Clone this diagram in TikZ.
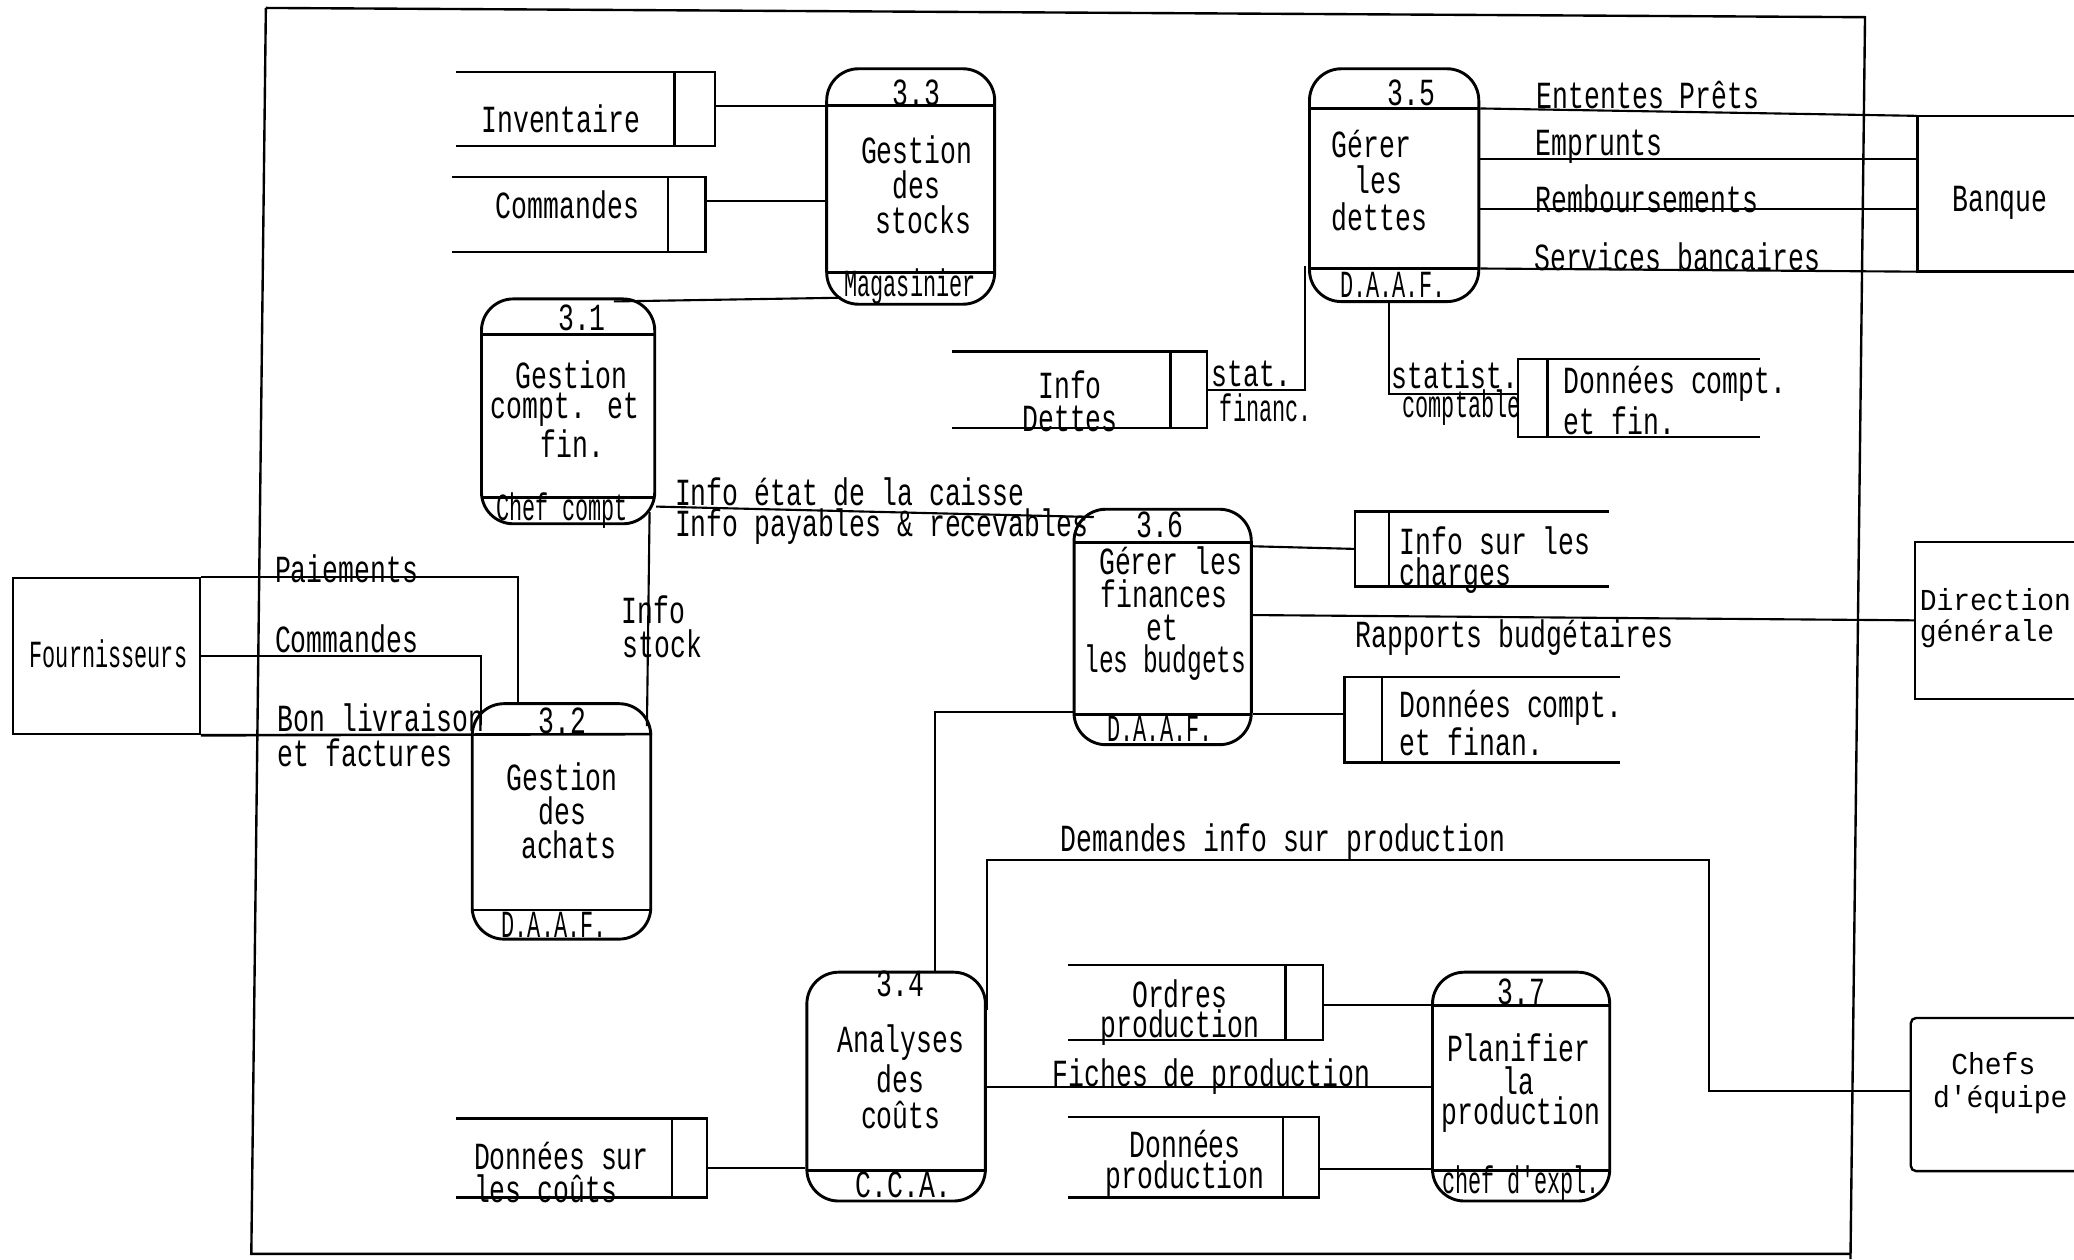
\documentclass[tikz,border=0pt]{standalone}
\usepackage{fontspec}
\setmainfont{Liberation Mono}[FakeStretch=0.69]
\newfontfamily\narrowfont{Liberation Mono}[FakeStretch=0.57]
\newfontfamily\midfont{Liberation Mono}[FakeStretch=0.64]
\newfontfamily\widefont{Liberation Mono}[FakeStretch=0.92]
\usetikzlibrary{fit,calc}
\newcommand\procbox[5]{\node[proc, fit={(#2,#3) (#4,#5)}] (#1) {};}
\newcommand\pdivider[5]{\begin{scope}\clip[rounded corners=12pt] (#1,#2) rectangle (#3,#4);\draw[line width=1.1pt] (#1,#5) -- (#3,#5);\end{scope}}
\newcommand\storeR[6]{\node[hold, fit={(#2,#3) (#4,#5)}] (#1) {};
  \draw[storeline] (#1.north west) -- (#1.north east) -- (#1.south east) -- (#1.south west);
  \draw[storeline] (#6,#3) -- (#6,#5);}
\newcommand\storeL[6]{\node[hold, fit={(#2,#3) (#4,#5)}] (#1) {};
  \draw[storeline] (#1.north east) -- (#1.north west) -- (#1.south west) -- (#1.south east);
  \draw[storeline] (#6,#3) -- (#6,#5);}
\begin{document}
\begin{tikzpicture}[x=0.5pt,y=-0.5pt,
  proc/.style={draw, line width=1.1pt, rounded corners=12pt, inner sep=0pt},
  hold/.style={inner sep=0pt},
  storeline/.style={line width=0.9pt},
  flow/.style={line width=0.8pt},
  lbl/.style={inner sep=0pt, font=\fontsize{14.5pt}{13.25pt}\selectfont},
  nlbl/.style={inner sep=0pt, font=\narrowfont\fontsize{14.5pt}{13.25pt}\selectfont},
  mlbl/.style={inner sep=0pt, font=\midfont\fontsize{14.5pt}{13.25pt}\selectfont},
  wlbl/.style={inner sep=0pt, font=\widefont\fontsize{11.5pt}{13.25pt}\selectfont},
  ]
\useasboundingbox (0,0) rectangle (1568,952);
\fill[white] (0,0) rectangle (1568,952);

% system boundary
\draw[line width=0.9pt] (201,6) -- (1410,13) -- (1399,952);
\draw[line width=0.9pt] (201,6) -- (190,948) -- (1399,948);

% processes
\procbox{p33}{625}{52}{752}{230}
\pdivider{625}{52}{752}{230}{80}
\pdivider{625}{52}{752}{230}{206}
\procbox{p35}{990}{52}{1118}{228}
\pdivider{990}{52}{1118}{228}{82}
\pdivider{990}{52}{1118}{228}{203}
\procbox{p31}{364}{226}{495}{396}
\pdivider{364}{226}{495}{396}{253}
\pdivider{364}{226}{495}{396}{376}
\procbox{p32}{357}{532}{492}{710}
\pdivider{357}{532}{492}{710}{688}
\procbox{p36}{812}{385}{946}{563}
\pdivider{812}{385}{946}{563}{410}
\pdivider{812}{385}{946}{563}{540}
\procbox{p34}{610}{735}{745}{908}
\pdivider{610}{735}{745}{908}{885}
\procbox{p37}{1083}{735}{1217}{908}
\pdivider{1083}{735}{1217}{908}{760}
\pdivider{1083}{735}{1217}{908}{885}

% process texts
\node[lbl] (n33) at (693,70) {3.3};
\node[lbl] (t33a) at (693,113) {Gestion};
\node[lbl] (t33b) at (693,140) {des};
\node[lbl] (t33c) at (698,166) {stocks};
\node[nlbl] (r33) at (688,217) {Magasinier};
\node[lbl] (n35) at (1067,70) {3.5};
\node[lbl] (t35a) at (1037,109) {Gérer};
\node[lbl] (t35b) at (1042,136) {les};
\node[lbl] (t35c) at (1043,164) {dettes};
\node[nlbl] (r35) at (1053,215) {D.A.A.F.};
\node[lbl] (n31) at (440,240) {3.1};
\node[lbl] (t31a) at (432,283) {Gestion};
\node[lbl] (t31b) at (427,310) {compt. et};
\node[lbl] (t31c) at (433,335) {fin.};
\node[nlbl] (r31) at (425,386) {Chef compt};
\node[lbl] (n32) at (425,545) {3.2};
\node[lbl] (t32a) at (425,587) {Gestion};
\node[lbl] (t32b) at (425,613) {des};
\node[lbl] (t32c) at (430,639) {achats};
\node[nlbl] (r32) at (419,699) {D.A.A.F.};
\node[lbl] (n36) at (877,397) {3.6};
\node[lbl] (t36a) at (885,424) {Gérer les};
\node[lbl] (t36b) at (880,449) {finances};
\node[lbl] (t36c) at (879,475) {et};
\node[mlbl] (t36d) at (881,501) {les budgets};
\node[nlbl] (r36) at (877,551) {D.A.A.F.};
\node[lbl] (n34) at (681,744) {3.4};
\node[lbl] (t34a) at (681,788) {Analyses};
\node[lbl] (t34b) at (681,816) {des};
\node[lbl] (t34c) at (681,843) {coûts};
\node[lbl] (r34) at (683,896) {C.C.A.};
\node[lbl] (n37) at (1150,750) {3.7};
\node[lbl] (t37a) at (1148,792) {Planifier};
\node[lbl] (t37b) at (1148,817) {la};
\node[lbl] (t37c) at (1150,843) {production};
\node[nlbl] (r37) at (1150,895) {chef d'expl.};

% data stores
\storeR{sInv}{345}{55}{540}{110}{510}
\node[lbl] (tInv) at (424,90) {Inventaire};
\storeR{sCom}{342}{134}{533}{190}{505}
\node[lbl] (tCom) at (429,155) {Commandes};
\storeR{sDet}{720}{266}{912}{323}{885}
\node[lbl] (tDet1) at (809,291) {Info};
\node[lbl] (tDet2) at (809,317) {Dettes};
\storeL{sDcf}{1148}{272}{1330}{330}{1170}
\node[lbl, anchor=west] (tDcf1) at (1182,290) {Données compt.};
\node[lbl, anchor=west] (tDcf2) at (1182,318) {et fin.};
\storeL{sChg}{1025}{387}{1216}{443}{1050}
\node[lbl, anchor=west] (tChg1) at (1058,409) {Info sur les};
\node[lbl, anchor=west] (tChg2) at (1058,435) {charges};
\storeL{sDfn}{1017}{512}{1224}{576}{1045}
\node[lbl, anchor=west] (tDfn1) at (1058,535) {Données compt.};
\node[lbl, anchor=west] (tDfn2) at (1058,561) {et finan.};
\storeR{sOrd}{808}{730}{1000}{786}{972}
\node[lbl] (tOrd1) at (892,751) {Ordres};
\node[lbl] (tOrd2) at (892,777) {production};
\storeR{sDpr}{808}{845}{997}{905}{970}
\node[lbl] (tDpr1) at (896,865) {Données};
\node[lbl] (tDpr2) at (896,891) {production};
\storeR{sDco}{345}{846}{534}{905}{508}
\node[lbl, anchor=west] (tDco1) at (358,874) {Données sur};
\node[lbl, anchor=west] (tDco2) at (358,899) {les coûts};

% external entities
\node[draw, line width=0.9pt, inner sep=0pt, fit={(10,437) (151,555)}] (fr) {};
\node[nlbl] (tfr) at (82,494) {Fournisseurs};
\node[hold, fit={(1450,88) (1568,205)}] (bq) {};
\draw[storeline] (bq.north east) -- (bq.north west) -- (bq.south west) -- (bq.south east);
\node[lbl] (tbq) at (1512,153) {Banque};
\node[hold, fit={(1448,410) (1568,528)}] (dg) {};
\draw[storeline] (dg.north east) -- (dg.north west) -- (dg.south west) -- (dg.south east);
\node[wlbl, anchor=west] (tdg1) at (1451,453) {Direction};
\node[wlbl, anchor=west] (tdg2) at (1451,479) {générale};
\node[hold, fit={(1445,770) (1568,885)}] (ce) {};
\draw[storeline, rounded corners=2pt] (ce.north east) -- (ce.north west) -- (ce.south west) -- (ce.south east);
\node[wlbl] (tce1) at (1507,804) {Chefs};
\node[wlbl, anchor=west] (tce2) at (1461,831) {d'équipe};

% flows
\draw[flow] (sInv.east |- 0,80) -- (p33.west |- 0,80);
\draw[flow] (sCom.east |- 0,152) -- (p33.west |- 0,152);
\draw[flow] ($(p31.north east)+(-32,3)$) -- ($(p33.south west)+(12,-6)$);
\draw[flow] (sDet.east |- 0,295) -| ($(p35.south west)+(-2,-28)$);
\node[lbl] (fst1) at (946,283) {stat.};
\node[nlbl] (fst2) at (957,308) {financ.};
\draw[flow] ($(p35.south)+(-4,0)$) |- (sDcf.west |- 0,298);
\node[lbl] (fsc1) at (1100,283) {statist.};
\node[nlbl] (fsc2) at (1105,308) {comptable};

\draw[flow] (p35.east |- 0,82) -- (bq.north west);
\node[lbl] (fEnt) at (1246,72) {Ententes Prêts};
\draw[flow] (p35.east |- 0,120) -- (bq.west |- 0,120);
\node[lbl] (fEmp) at (1209,111) {Emprunts};
\draw[flow] (p35.east |- 0,158) -- (bq.west |- 0,158);
\node[lbl] (fRem) at (1245,150) {Remboursements};
\draw[flow] (p35.east |- 0,203) -- (bq.south west);
\node[lbl] (fSer) at (1268,194) {Services bancaires};

\draw[flow] (p31.east |- 0,383) -- ($(p36.north west)+(16,7)$);
\node[lbl, anchor=west] (fcai) at (510,372) {Info état de la caisse};
\node[lbl, anchor=west] (fpay) at (510,398) {Info payables \& recevables};

\draw[flow] ($(p31.south east)+(-5,-10)$) -- ($(p32.north east)+(-4,18)$);
\node[lbl] (fis1) at (494,461) {Info};
\node[lbl] (fis2) at (501,487) {stock};

\draw[flow] (fr.north east) -| ($(p32.north west)+(36,0)$);
\node[lbl] (fpai) at (262,430) {Paiements};
\draw[flow] (fr.east) -| ($(p32.north west)+(8,17)$);
\node[lbl] (fcom) at (262,483) {Commandes};
\draw[flow, line width=1pt] (fr.south east) -- (p32.east |- 0,555);
\node[lbl] (fbon) at (288,543) {Bon livraison};
\node[lbl] (ffac) at (276,569) {et factures};

\draw[flow] (p36.east |- 0,413) -- (sChg.west);
\draw[flow] (p36.east |- 0,465) -- (dg.west);
\node[lbl] (frap) at (1145,482) {Rapports budgétaires};
\draw[flow] ($(p34.north west)+(98,0)$) |- (p36.west |- 0,538);
\draw[flow] (p36.east |- 0,540) -- (sDfn.west |- 0,540);

\coordinate (dq) at (1292,650);
\draw[flow] ($(p34.north east)+(0,30)$) |- (dq) |- (ce.west |- 0,825);
\node[lbl] (fdem) at (970,636) {Demandes info sur production};
\draw[flow] (p34.east |- 0,822) -- (p37.west |- 0,822);
\node[lbl] (ffic) at (916,814) {Fiches de production};
\draw[flow] (sOrd.east |- 0,760) -- (p37.west |- 0,760);
\draw[flow] (sDpr.east |- 0,884) -- (p37.west |- 0,884);
\draw[flow] (sDco.east |- 0,883) -- (p34.west |- 0,883);
\end{tikzpicture}
\end{document}
